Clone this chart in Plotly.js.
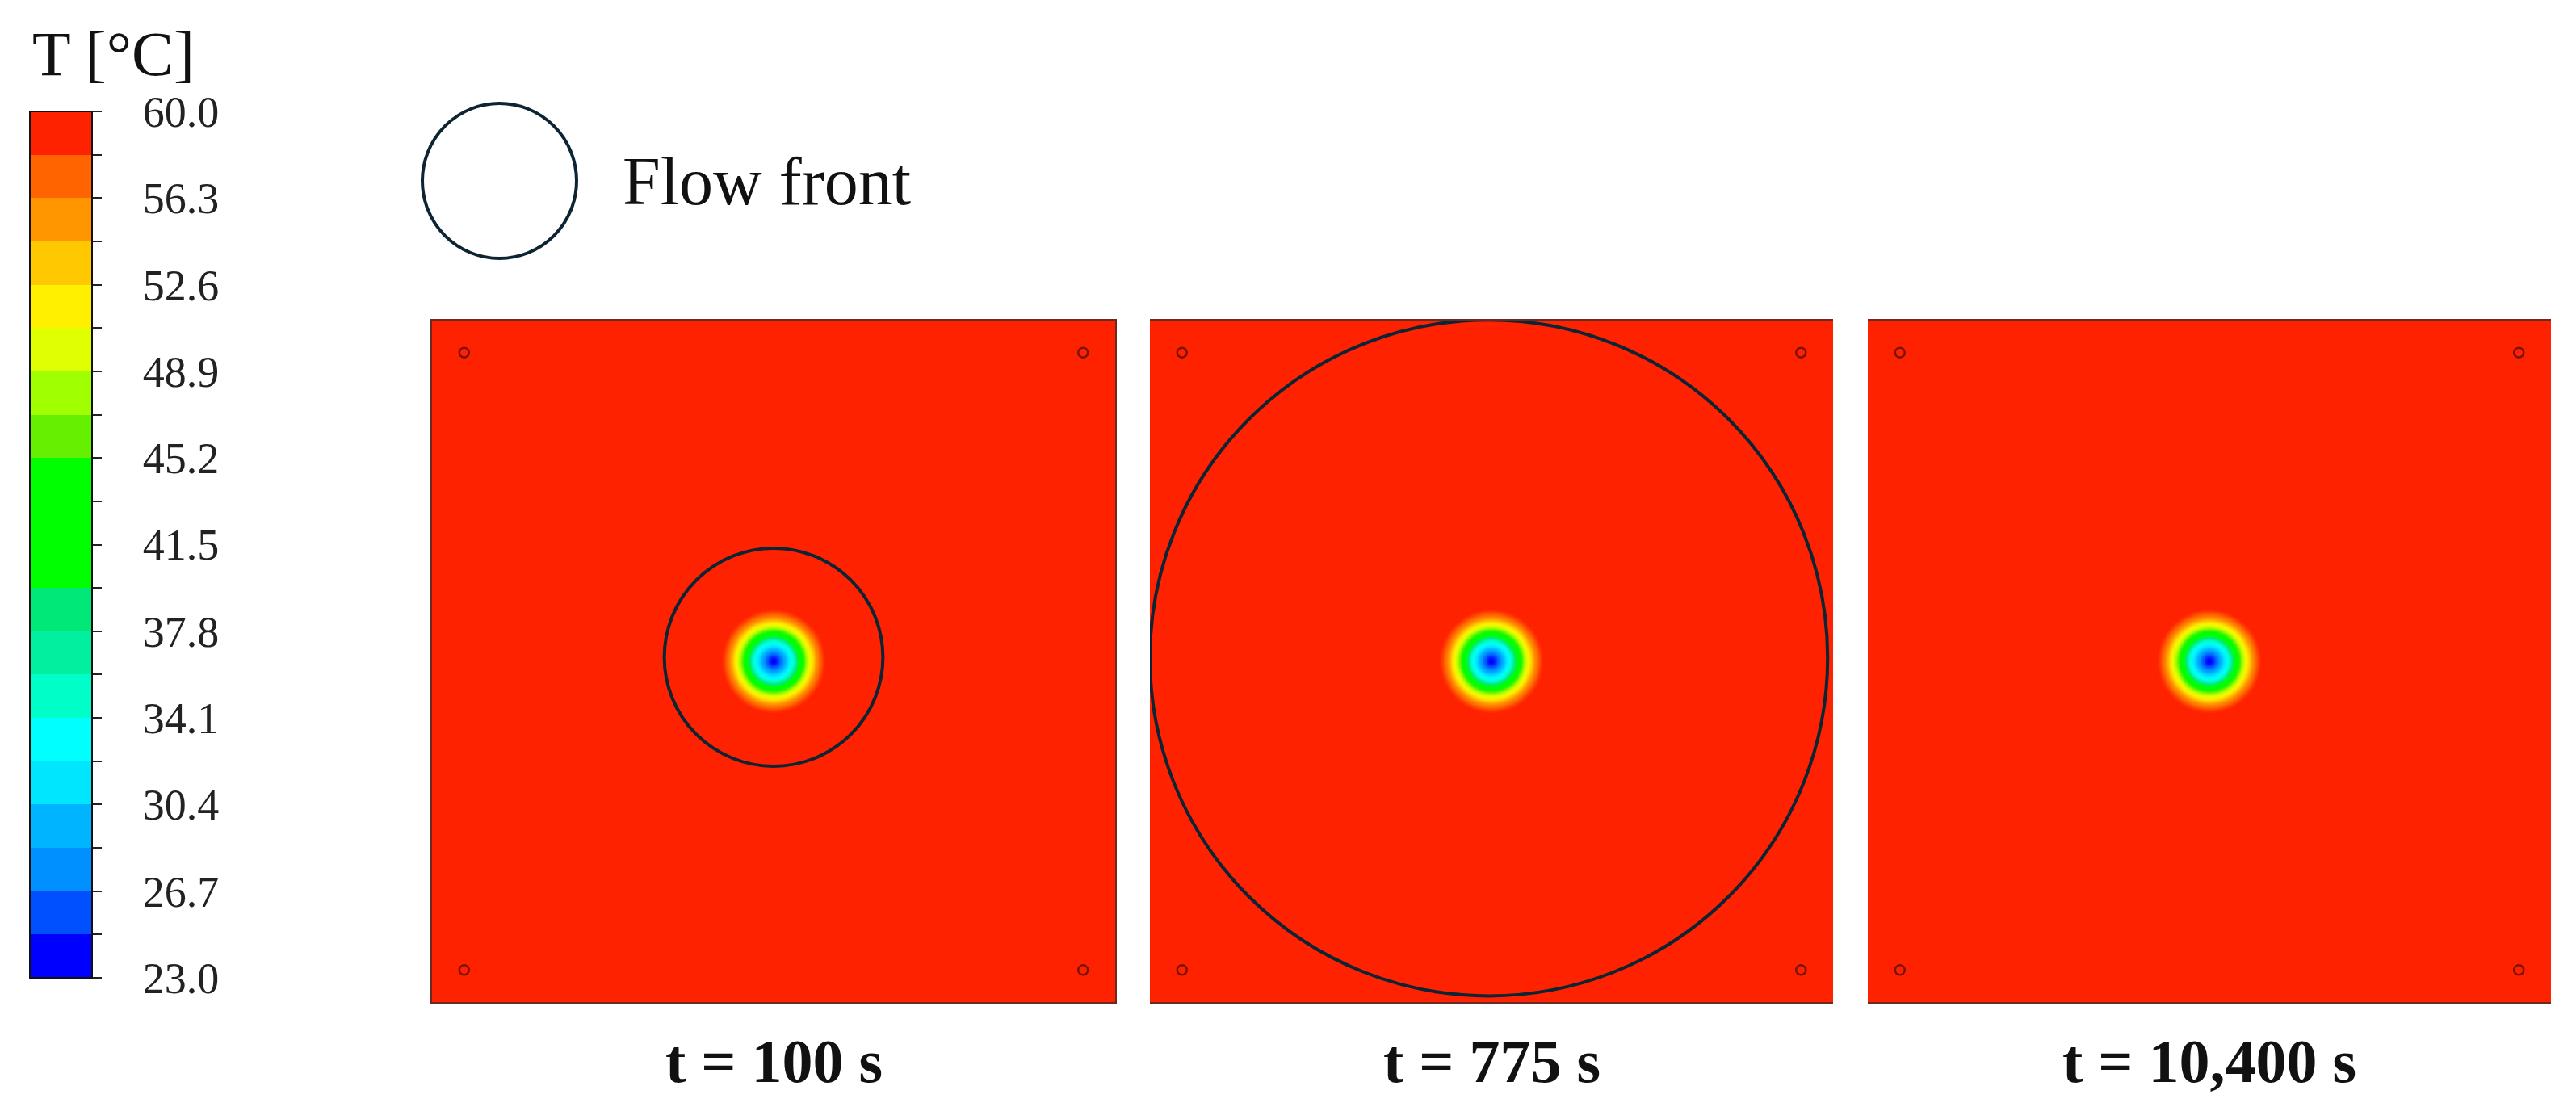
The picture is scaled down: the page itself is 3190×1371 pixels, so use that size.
<!DOCTYPE html>
<html>
<head>
<meta charset="utf-8">
<script src="https://cdn.plot.ly/plotly-3.0.1.min.js"></script>
<style>html,body{margin:0;padding:0;background:#fff;}#chart{width:3190px;height:1371px;}</style>
</head>
<body>
<div id="chart"></div>
<script>
// ---- data ----
// colour bands of the legend, from 23.0 (bottom) to 60.0 (top)
const bandColors = ['#0000ff','#0050ff','#0090ff','#00b4ff','#00e6ff','#00ffff','#00ffc8','#00f0a0','#00e878',
                    '#00ff00','#00ff00','#00ff00','#64f000','#a0ff00','#e0ff00','#fff000','#ffc800','#ff9600','#ff6400','#ff2200'];
const tMin = 23.0;
const tMax = 60.0;
const bandEdges = [23.0,24.85,26.7,28.55,30.4,32.25,34.1,35.95,37.8,39.65,41.5,43.35,45.2,47.05,48.9,50.75,52.6,54.45,56.3,58.15,60.0];
const edgeLabels = ['23.0','','26.7','','30.4','','34.1','','37.8','','41.5','','45.2','','48.9','','52.6','','56.3','','60.0'];
const scaleTitle = 'T [°C]';

// plate coordinates (0..100 on each side), cold spot at the plate centre
const plateSize = 100;
const spotX = 50, spotY = 50;
// radial temperature profile of the cold spot (distance from centre, temperature °C)
const profileR = [0, 0.47, 1.18, 1.77, 2.36, 2.96, 3.43, 3.85, 4.4, 4.95, 5.6, 6.3, 7.1, 8.0];
const profileT = [23, 24.5, 27, 29.5, 32, 35, 38.5, 41.5, 45, 48.5, 52, 55.5, 58, 60];

// the three time steps
const panelTitles = ['t = 100 s', 't = 775 s', 't = 10,400 s'];
const frontCX = [50.0, 49.6, null];
const frontCY = [50.6, 50.5, null];
const frontR  = [16.0, 49.6, null];

// small holes near the plate corners
const holeX = [4.7, 95.3, 4.7, 95.3];
const holeY = [95.3, 95.3, 4.7, 4.7];

// ---- build ----
const W = 3190, H = 1371;
const px = v => v / W, py = v => 1 - v / H;

function tempAt(r) {
  if (r >= profileR[profileR.length - 1]) return profileT[profileT.length - 1];
  for (let i = 1; i < profileR.length; i++) {
    if (r <= profileR[i]) {
      const f = (r - profileR[i-1]) / (profileR[i] - profileR[i-1]);
      return profileT[i-1] + f * (profileT[i] - profileT[i-1]);
    }
  }
  return profileT[profileT.length - 1];
}

// grid: coarse far from the spot, fine near it
const gx = [0, 20, 40], gy = [0, 20, 40];
for (let v = 41; v <= 59.0001; v += 0.2) { gx.push(+v.toFixed(2)); gy.push(+v.toFixed(2)); }
gx.push(60, 80, 100); gy.push(60, 80, 100);
const field = gy.map(yv => gx.map(xv => tempAt(Math.hypot(xv - spotX, yv - spotY))));

// continuous scale for the field (band centres), discrete for the legend bar
const n = bandColors.length;
const smoothScale = [[0, bandColors[0]]];
bandColors.forEach((c, i) => smoothScale.push([(i + 0.5) / n, c]));
smoothScale.push([1, bandColors[n-1]]);
const stepScale = [];
bandColors.forEach((c, i) => { stepScale.push([i / n, c]); stepScale.push([(i + 1) / n, c]); });

const domainsX = [[px(535), px(1381)], [px(1424), px(2270)], [px(2313), px(3159)]];
const domainY = [py(1241), py(397)];

const traces = [];
const shapes = [];
const annotations = [];
const layout = {
  width: W, height: H,
  margin: {l: 0, r: 0, t: 0, b: 0},
  paper_bgcolor: '#ffffff', plot_bgcolor: '#ffffff',
  font: {family: 'Liberation Serif', color: '#111'},
  showlegend: false
};

panelTitles.forEach((title, i) => {
  const sfx = i === 0 ? '' : String(i + 1);
  const xa = 'x' + sfx, ya = 'y' + sfx;
  layout['xaxis' + sfx] = {domain: domainsX[i], range: [0, plateSize], showgrid: false, zeroline: false,
    showticklabels: false, ticks: '', showline: true, mirror: true, linecolor: '#6a2a22', linewidth: 2, fixedrange: true};
  layout['yaxis' + sfx] = {domain: domainY, range: [0, plateSize], showgrid: false, zeroline: false,
    showticklabels: false, ticks: '', showline: true, mirror: true, linecolor: '#6a2a22', linewidth: 2, fixedrange: true};
  traces.push({type: 'heatmap', x: gx, y: gy, z: field, xaxis: xa, yaxis: ya,
    zmin: tMin, zmax: tMax, colorscale: smoothScale, showscale: false, zsmooth: false, hoverinfo: 'skip'});
  traces.push({type: 'scatter', mode: 'markers', x: holeX, y: holeY, xaxis: xa, yaxis: ya,
    marker: {symbol: 'circle-open', size: 12, color: '#7a1208', line: {width: 2.5, color: '#7a1208'}}, hoverinfo: 'skip'});
  if (frontR[i] !== null) {
    shapes.push({type: 'circle', xref: xa, yref: ya,
      x0: frontCX[i] - frontR[i], x1: frontCX[i] + frontR[i],
      y0: frontCY[i] - frontR[i], y1: frontCY[i] + frontR[i],
      line: {color: '#0c2433', width: 4}, layer: 'above'});
  }
  annotations.push({text: '<b>' + title + '</b>', xref: xa + ' domain', yref: 'paper',
    x: 0.5, y: py(1314), xanchor: 'center', yanchor: 'middle', showarrow: false,
    font: {family: 'Liberation Serif', size: 76, color: '#111'}});
});

// colour legend bar
layout.xaxis4 = {domain: [0, 0.001], visible: false};
layout.yaxis4 = {domain: [0, 0.001], visible: false};
traces.push({type: 'heatmap', z: [[tMin, tMax]], xaxis: 'x4', yaxis: 'y4', opacity: 0, hoverinfo: 'skip',
  zmin: tMin, zmax: tMax, colorscale: stepScale, showscale: true,
  colorbar: {
    x: px(37), xanchor: 'left', xpad: 0, ypad: 0,
    y: py(138), yanchor: 'top', lenmode: 'pixels', len: 1073,
    thicknessmode: 'pixels', thickness: 77,
    outlinewidth: 2, outlinecolor: '#111',
    tickmode: 'array', tickvals: bandEdges, ticktext: edgeLabels.map(t => t ? '\u00A0\u00A0\u00A0' + t : ''),
    ticks: 'outside', ticklen: 11, tickwidth: 2, tickcolor: '#222',
    tickfont: {family: 'Liberation Serif', size: 54, color: '#222'}
  }});
annotations.push({text: scaleTitle, xref: 'paper', yref: 'paper', x: px(38), y: py(66),
  xanchor: 'left', yanchor: 'middle', showarrow: false,
  font: {family: 'Liberation Serif', size: 78, color: '#111'}});

// flow front key
shapes.push({type: 'circle', xref: 'paper', yref: 'paper',
  x0: px(523), x1: px(714), y0: py(320), y1: py(128), line: {color: '#0c2433', width: 4}});
annotations.push({text: 'Flow front', xref: 'paper', yref: 'paper', x: px(769), y: py(224),
  xanchor: 'left', yanchor: 'middle', showarrow: false,
  font: {family: 'Liberation Serif', size: 84, color: '#111'}});

layout.shapes = shapes;
layout.annotations = annotations;

Plotly.newPlot('chart', traces, layout, {staticPlot: true, displayModeBar: false});
</script>
</body>
</html>
